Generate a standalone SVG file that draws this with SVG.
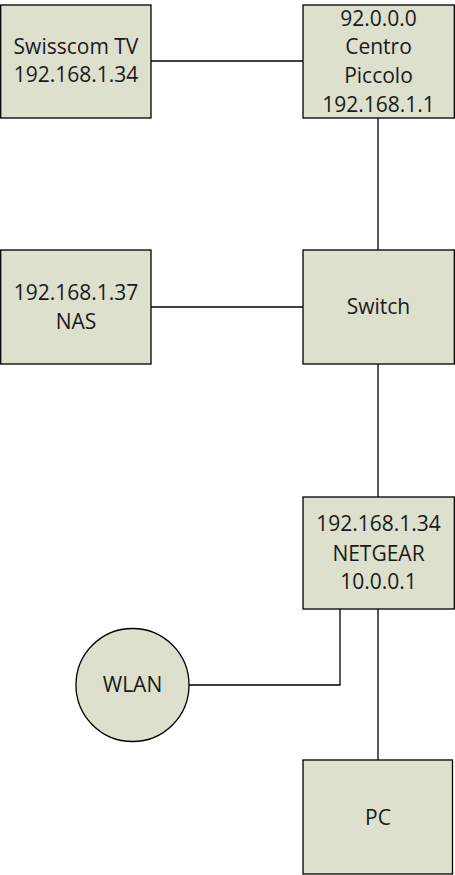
<svg xmlns="http://www.w3.org/2000/svg" width="455" height="875" viewBox="0 0 455 875">
<style>
.n{fill:#dde0cc;stroke:#000;stroke-width:1.3}
.c{fill:none;stroke:#000;stroke-width:1.3}
text{font-family:"Open Sans","Liberation Sans",sans-serif;font-size:21px;fill:#1a1a1a;text-anchor:middle}
</style>
<rect width="455" height="875" fill="#fff"/>
<g id="connectors">
<path class="c" d="M151 61H303"/>
<path class="c" d="M378 118V250"/>
<path class="c" d="M151 307H303"/>
<path class="c" d="M378 364V497"/>
<path class="c" d="M340 609V685H189"/>
<path class="c" d="M378 609V760"/>
</g>
<g id="swisscom"><rect class="n" x="0.7" y="5" width="150.3" height="113"/><text x="76" y="54">Swisscom TV</text><text x="76" y="82">192.168.1.34</text></g>
<g id="centro"><rect class="n" x="303" y="5" width="151.3" height="113"/><text x="378.5" y="26">92.0.0.0</text><text x="378.5" y="54">Centro</text><text x="378.5" y="83">Piccolo</text><text x="378.5" y="112">192.168.1.1</text></g>
<g id="nas"><rect class="n" x="0.7" y="250" width="150.3" height="114"/><text x="76" y="300">192.168.1.37</text><text x="76" y="329">NAS</text></g>
<g id="switch"><rect class="n" x="303" y="250" width="151.3" height="114"/><text x="378.5" y="314">Switch</text></g>
<g id="netgear"><rect class="n" x="303" y="497" width="151.3" height="112"/><text x="378.5" y="531">192.168.1.34</text><text x="378.5" y="561">NETGEAR</text><text x="378.5" y="589">10.0.0.1</text></g>
<g id="wlan"><circle class="n" cx="132.5" cy="685" r="56.5"/><text x="132.5" y="692">WLAN</text></g>
<g id="pc"><rect class="n" x="303" y="760" width="149.5" height="114"/><text x="378" y="825">PC</text></g>
</svg>
